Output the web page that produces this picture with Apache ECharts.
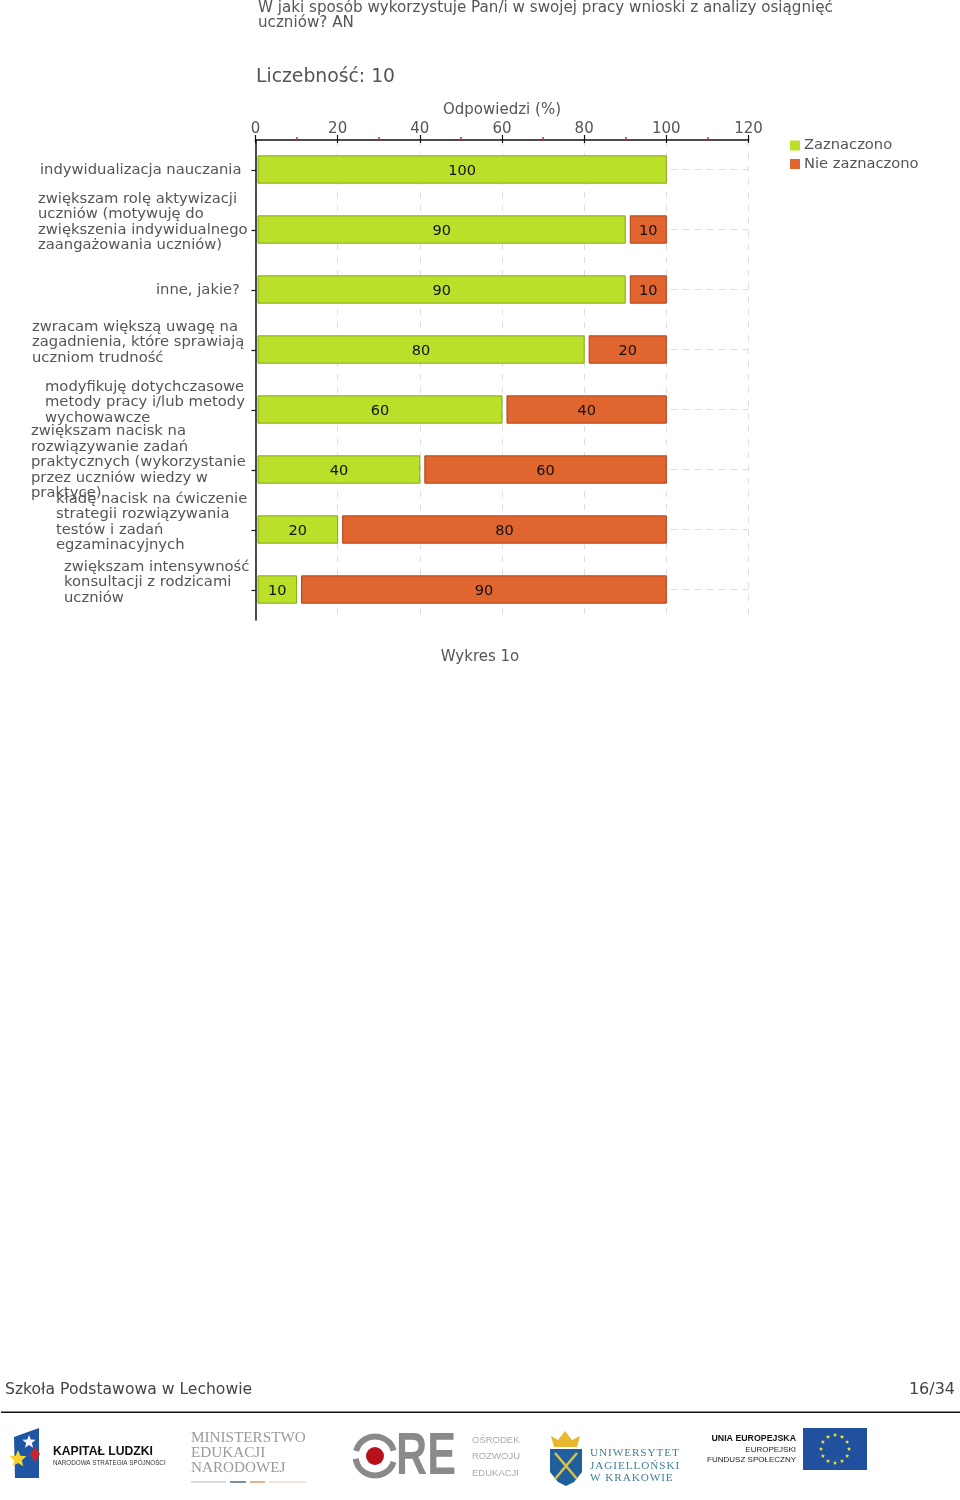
<!DOCTYPE html>
<html><head><meta charset="utf-8">
<style>html,body{margin:0;padding:0;background:#fff}#c{width:960px;height:1500px}</style>
<script src="https://cdn.jsdelivr.net/npm/echarts@6/dist/echarts.min.js"></script>
</head><body><div id="c"></div>
<script>
const categories = [
  "indywidualizacja nauczania",
  "zwiększam rolę aktywizacji\nuczniów (motywuję do\nzwiększenia indywidualnego\nzaangażowania uczniów)",
  "inne, jakie?",
  "zwracam większą uwagę na\nzagadnienia, które sprawiają\nuczniom trudność",
  "modyfikuję dotychczasowe\nmetody pracy i/lub metody\nwychowawcze",
  "zwiększam nacisk na\nrozwiązywanie zadań\npraktycznych (wykorzystanie\nprzez uczniów wiedzy w\npraktyce)",
  "kładę nacisk na ćwiczenie\nstrategii rozwiązywania\ntestów i zadań\negzaminacyjnych",
  "zwiększam intensywność\nkonsultacji z rodzicami\nuczniów"
];
const zaznaczono = [100, 90, 90, 80, 60, 40, 20, 10];
const nieZaznaczono = [0, 10, 10, 20, 40, 60, 80, 90];
const seriesNames = ["Zaznaczono", "Nie zaznaczono"];
const axisTicks = {min: 0, max: 120, interval: 20};
const labelBlockWidths = [210, 212, 94, 218, 205, 219, 194, 186];

const FONT = '"DejaVu Sans"';
const TXT = '#555';
const rows = categories.map((c, i) => [i, zaznaczono[i], nieZaznaczono[i]]);
const styles = [
  {fill: '#bbe02a', stroke: '#86a51c'},
  {fill: '#e0652e', stroke: '#b03e18'}
];
function renderBar(which) {
  return function (params, api) {
    const cat = api.value(0), a = api.value(1), b = api.value(2);
    const from = which === 0 ? 0 : a, to = which === 0 ? a : a + b;
    const children = [];
    const h = api.size([0, 1])[1] * 0.455;
    const y = api.coord([0, cat])[1];
    if (which === 0) {
      const end = api.coord([a + b, cat])[0], far = api.coord([axisTicks.max, cat])[0];
      children.push({type: 'line', shape: {x1: end + 4, y1: y - 0.5, x2: far, y2: y - 0.5},
        style: {stroke: '#dedede', lineWidth: 1, lineDash: [7, 5]}, silent: true});
    }
    if (to > from) {
      const x0 = api.coord([from, cat])[0] + (which === 0 ? 2.5 : 5);
      const x1 = api.coord([to, cat])[0];
      children.push({type: 'rect', shape: {x: x0, y: y - h / 2 - 0.5, width: x1 - x0, height: h},
        style: {fill: styles[which].fill, stroke: styles[which].stroke, lineWidth: 1}});
      children.push({type: 'text', style: {text: String(to - from), x: (x0 + x1) / 2, y: y + 1,
        align: 'center', verticalAlign: 'middle', fill: '#111', font: '14.5px ' + FONT}});
    }
    return {type: 'group', children};
  };
}
function star(cx, cy, R, r, rot) {
  const p = [];
  for (let i = 0; i < 10; i++) {
    const t = (rot || -Math.PI / 2) + i * Math.PI / 5, q = i % 2 ? r : R;
    p.push([cx + q * Math.cos(t), cy + q * Math.sin(t)]);
  }
  return {type: 'polygon', shape: {points: p}};
}
function txt(x, y, text, font, fill, align) {
  return {type: 'text', x, y, style: {text, font, fill, align: align || 'left', verticalAlign: 'middle'}, silent: true};
}
const SERIF = '"Liberation Serif"', SANS = '"Liberation Sans"';
const spaced = s => s.split('').join('\u200a');
const euStars = [];
for (let i = 0; i < 12; i++) {
  const t = i * Math.PI / 6;
  euStars.push(Object.assign(star(835 + 14 * Math.cos(t), 1449 + 14 * Math.sin(t), 2.2, 1), {style: {fill: '#f2e33a'}}));
}
const graphics = [
  txt(258, 8, "W jaki sposób wykorzystuje Pan/i w swojej pracy wnioski z analizy osiągnięć", '15.15px ' + FONT, TXT),
  txt(258, 23, "uczniów? AN", '15.15px ' + FONT, TXT),
  txt(256, 77, "Liczebność: 10", '18.8px ' + FONT, TXT),
  txt(480, 657, "Wykres 1o", '15px ' + FONT, TXT, 'center'),
  txt(5, 1390, "Szkoła Podstawowa w Lechowie", '15.6px ' + FONT, '#444'),
  txt(955, 1390, "16/34", '16px ' + FONT, '#444', 'right'),
  {type: 'rect', shape: {x: 1, y: 1411.5, width: 959, height: 1.6}, style: {fill: '#111'}},
  // Kapitał Ludzki
  {type: 'polygon', shape: {points: [[14, 1437], [39, 1428], [39, 1478], [15, 1478]]}, style: {fill: '#1f56a3'}},
  Object.assign(star(29, 1442, 7, 3), {style: {fill: '#f4f6fb'}}),
  Object.assign(star(18, 1459, 9, 4), {style: {fill: '#f5d32a'}}),
  {type: 'polygon', shape: {points: [[35, 1447], [40, 1454], [35, 1462], [30, 1454]]}, style: {fill: '#c8262c'}},
  txt(53, 1452, "KAPITAŁ LUDZKI", 'bold 12.2px ' + SANS, '#111'),
  txt(53, 1463, "NARODOWA STRATEGIA SPÓJNOŚCI", '6.3px ' + SANS, '#333'),
  // MEN
  txt(191, 1438, "MINISTERSTWO", '15.2px ' + SERIF, '#9a9a9a'),
  txt(191, 1453, "EDUKACJI", '15.2px ' + SERIF, '#9a9a9a'),
  txt(191, 1468, "NARODOWEJ", '15.2px ' + SERIF, '#9a9a9a'),
  {type: 'line', shape: {x1: 191, y1: 1482, x2: 226, y2: 1482}, style: {stroke: '#b5bcc4', lineWidth: 1.2}},
  {type: 'line', shape: {x1: 230, y1: 1482, x2: 246, y2: 1482}, style: {stroke: '#7e8fa8', lineWidth: 2}},
  {type: 'line', shape: {x1: 250, y1: 1482, x2: 265, y2: 1482}, style: {stroke: '#e0b48c', lineWidth: 2}},
  {type: 'line', shape: {x1: 269, y1: 1482, x2: 306, y2: 1482}, style: {stroke: '#eccdb3', lineWidth: 1.2}},
  // ORE
  {type: 'arc', shape: {cx: 375, cy: 1456, r: 19.5, startAngle: 0.3, endAngle: 3.0}, style: {stroke: '#8a8a8a', lineWidth: 6, fill: 'none'}},
  {type: 'arc', shape: {cx: 375, cy: 1456, r: 19.5, startAngle: 3.4, endAngle: 6.0}, style: {stroke: '#8a8a8a', lineWidth: 6, fill: 'none'}},
  {type: 'circle', shape: {cx: 375, cy: 1456, r: 9}, style: {fill: '#b5121b'}},
  Object.assign(txt(396, 1457, "RE", 'bold 60px ' + SANS, '#8a8a8a'), {scaleX: 0.72}),
  txt(472, 1440, "OŚRODEK", '9.5px ' + SANS, '#aaa'),
  txt(472, 1456, "ROZWOJU", '9.5px ' + SANS, '#aaa'),
  txt(472, 1473, "EDUKACJI", '9.5px ' + SANS, '#aaa'),
  // UJ
  {type: 'polygon', shape: {points: [[550, 1449], [582, 1449], [582, 1472], [574, 1482], [566, 1486], [558, 1482], [550, 1472]]}, style: {fill: '#1f5f9e'}},
  {type: 'line', shape: {x1: 555, y1: 1453, x2: 577, y2: 1479}, style: {stroke: '#d8c24a', lineWidth: 2.5}},
  {type: 'line', shape: {x1: 577, y1: 1453, x2: 555, y2: 1479}, style: {stroke: '#d8c24a', lineWidth: 2.5}},
  {type: 'polygon', shape: {points: [[551, 1436], [558, 1440], [565, 1431], [572, 1440], [580, 1436], [577, 1447], [554, 1447]]}, style: {fill: '#e8b92e'}},
  txt(590, 1453, spaced("UNIWERSYTET"), '11.2px ' + SERIF, '#3f7f96'),
  txt(590, 1466, spaced("JAGIELLOŃSKI"), '11.2px ' + SERIF, '#3f7f96'),
  txt(590, 1478, spaced("W KRAKOWIE"), '11.2px ' + SERIF, '#3f7f96'),
  // EU
  txt(796, 1439, "UNIA EUROPEJSKA", 'bold 8.8px ' + SANS, '#111', 'right'),
  txt(796, 1450, "EUROPEJSKI", '8px ' + SANS, '#222', 'right'),
  txt(796, 1460, "FUNDUSZ SPOŁECZNY", '8px ' + SANS, '#222', 'right'),
  {type: 'rect', shape: {x: 803, y: 1428, width: 64, height: 42}, style: {fill: '#21509f'}},
  ...euStars
];
const rich = {};
labelBlockWidths.forEach((w, i) => {
  rich['b' + i] = {width: w, align: 'left', color: TXT, fontFamily: FONT, fontSize: 14.75, lineHeight: 15.5};
});
const chart = echarts.init(document.getElementById('c'), null, {renderer: 'canvas'});
chart.setOption({
  animation: false,
  backgroundColor: '#fff',
  textStyle: {fontFamily: FONT},
  grid: {left: 255.5, top: 140, width: 493, height: 480, containLabel: false},
  legend: {
    left: 785, top: 133, orient: 'vertical', itemWidth: 10, itemHeight: 10, itemGap: 3.5, icon: 'rect',
    data: seriesNames, selectedMode: false,
    textStyle: {color: TXT, fontSize: 14.7, fontFamily: FONT, padding: [0, 0, 0, -1]}
  },
  xAxis: [{
    type: 'value', position: 'top', min: axisTicks.min, max: axisTicks.max, interval: axisTicks.interval,
    name: 'Odpowiedzi (%)', nameLocation: 'middle', nameGap: 22,
    nameTextStyle: {color: TXT, fontSize: 15, fontFamily: FONT},
    axisLine: {show: true, lineStyle: {color: '#111', width: 1.5}},
    axisTick: {show: true, length: 5, lineStyle: {color: '#111', width: 1.2}},
    minorTick: {show: true, splitNumber: 2, length: 3, lineStyle: {color: '#c0303a', width: 1.5}},
    axisLabel: {show: true, color: TXT, fontSize: 15, fontFamily: FONT, margin: 3, hideOverlap: false, showMinLabel: true, showMaxLabel: true},
    splitLine: {show: true, lineStyle: {color: '#dedede', type: [6, 7], width: 1}}
  }, {
    type: 'value', position: 'top', min: axisTicks.min, max: axisTicks.max, interval: axisTicks.interval,
    axisLine: {show: false}, axisLabel: {show: false}, splitLine: {show: false},
    axisTick: {show: true, inside: true, length: 3, lineStyle: {color: '#111', width: 1.2}}
  }],
  yAxis: {
    type: 'category', inverse: true, data: categories,
    axisLine: {show: true, lineStyle: {color: '#111', width: 1.5}},
    axisTick: {show: true, alignWithLabel: true, length: 4, lineStyle: {color: '#111', width: 1.2}},
    axisLabel: {
      interval: 0, margin: 5.5, align: 'right', rich,
      formatter: function (value, idx) {
        const lines = value.split('\n');
        if (lines.length > 1) lines.push('\u00a0');
        return lines.map(l => '{b' + idx + '|' + l + '}').join('\n');
      }
    }
  },
  graphic: {elements: graphics},
  series: seriesNames.map((name, which) => ({
    name, type: 'custom', data: rows, renderItem: renderBar(which), clip: false,
    encode: {y: 0, x: 1 + which}, itemStyle: {color: styles[which].fill}, silent: true
  }))
});
</script></body></html>
